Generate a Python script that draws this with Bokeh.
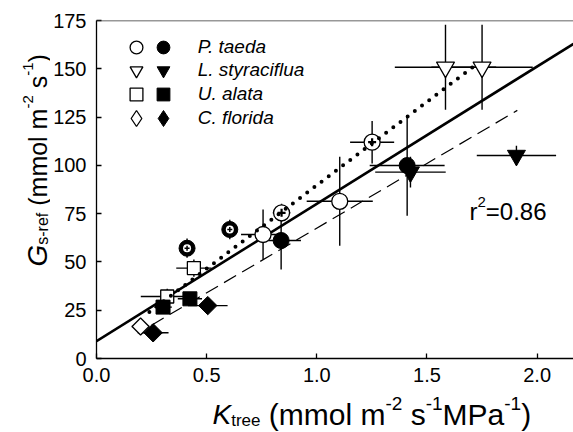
import numpy as np
from bokeh.plotting import figure
from bokeh.layouts import column, row
from bokeh.models import (Range1d, FixedTicker, Label, Legend,
                          LegendItem, Span, NumeralTickFormatter)
from bokeh.embed import file_html
from bokeh.resources import INLINE

# ---------------- data ----------------
# P. taeda
pt_open_x = [0.756, 1.104]
pt_open_y = [64.2, 81.4]
pt_open_xerr = [0.10, 0.15]
pt_open_yerr = [13, 23]

pt_open_plus_x = [0.840, 1.251]
pt_open_plus_y = [75.4, 112.0]
pt_open_plus_xerr = [0.04, 0.10]
pt_open_plus_yerr = [4.7, 11]

pt_fill_x = [0.838, 1.410]
pt_fill_y = [61.1, 99.9]
pt_fill_xerr = [0.09, 0.17]
pt_fill_yerr = [15, 26]

pt_fill_plus_x = [0.411, 0.605]
pt_fill_plus_y = [57.1, 66.8]
pt_fill_plus_xerr = [0.0, 0.0]
pt_fill_plus_yerr = [5, 5]

# L. styraciflua
ls_open_x = [1.584, 1.750]
ls_open_y = [150.8, 150.8]
ls_open_xerr = [0.23, 0.23]
ls_open_yerr = [22, 22]

ls_fill_x = [1.425, 1.906]
ls_fill_y = [96.5, 105.1]
ls_fill_xerr = [0.16, 0.18]
ls_fill_yerr = [8, 5]

# U. alata
ua_open_x = [0.442, 0.321]
ua_open_y = [46.8, 32.1]
ua_open_xerr = [0.08, 0.12]
ua_open_yerr = [4.5, 4]

ua_fill_x = [0.302, 0.424]
ua_fill_y = [26.6, 30.9]
ua_fill_xerr = [0.04, 0.055]
ua_fill_yerr = [3, 3]

# C. florida
cf_open_x = [0.200]
cf_open_y = [16.6]
cf_open_xerr = [0.04]
cf_open_yerr = [3]

cf_fill_x = [0.257, 0.505]
cf_fill_y = [13.3, 27.4]
cf_fill_xerr = [0.07, 0.09]
cf_fill_yerr = [3, 3]

species = ["P. taeda", "L. styraciflua", "U. alata", "C. florida"]

# regression lines: (intercept, slope, x_start, x_end)
solid_fit = (9.0, 71.1, 0.0, 2.165)
dotted_fit = (3.3, 86.4, 0.24, 1.73)
dashed_fit = (0.5, 67.0, 0.25, 1.91)

x_ticks = [0.0, 0.5, 1.0, 1.5, 2.0]
y_ticks = [0, 25, 50, 75, 100, 125, 150, 175]

FONT = "Liberation Sans"

# page layout (pixels): y-title strip | main plot ; x-title strip below
YSTRIP_W = 50
MAIN_W, MAIN_H = 573 - YSTRIP_W, 392
XSTRIP_H = 39
FRAME_L, FRAME_T, FRAME_B = 96, 20, 358          # page coordinates of the main frame

p = figure(width=MAIN_W, height=MAIN_H, output_backend="svg", toolbar_location=None,
           x_range=Range1d(0, 2.165), y_range=Range1d(0, 175),
           min_border_left=FRAME_L - YSTRIP_W, min_border_right=0, min_border_top=FRAME_T,
           min_border_bottom=MAIN_H - FRAME_B)
p.outline_line_color = None
p.grid.visible = False
p.background_fill_color = "white"
p.border_fill_color = "white"

for ax, ticks in ((p.xaxis[0], x_ticks), (p.yaxis[0], y_ticks)):
    ax.ticker = FixedTicker(ticks=ticks)
    ax.axis_line_color = "black"
    ax.axis_line_width = 1.3
    ax.major_tick_line_color = "black"
    ax.major_tick_line_width = 1.3
    ax.major_tick_in = 5
    ax.major_tick_out = 0
    ax.minor_tick_line_color = None
    ax.major_label_text_font = FONT
    ax.major_label_text_font_size = "20px"
    ax.major_label_text_color = "black"
p.xaxis[0].formatter = NumeralTickFormatter(format="0.0")
p.xaxis[0].major_label_standoff = 9
p.yaxis[0].major_label_standoff = 10

p.add_layout(Span(location=175, dimension="width", line_color="#333333", line_width=1.3))

def fit_line(fit):
    b, m, x0, x1 = fit
    xs = np.array([x0, x1])
    return xs, b + m * xs

xs, ys = fit_line(solid_fit)
p.line(xs, ys, line_color="black", line_width=2.6)
xs, ys = fit_line(dashed_fit)
p.line(xs, ys, line_color="black", line_width=1.2, line_dash="14 7")

# error bars
groups = [
    (pt_open_x, pt_open_y, pt_open_xerr, pt_open_yerr),
    (pt_open_plus_x, pt_open_plus_y, pt_open_plus_xerr, pt_open_plus_yerr),
    (pt_fill_x, pt_fill_y, pt_fill_xerr, pt_fill_yerr),
    (pt_fill_plus_x, pt_fill_plus_y, pt_fill_plus_xerr, pt_fill_plus_yerr),
    (ls_open_x, ls_open_y, ls_open_xerr, ls_open_yerr),
    (ls_fill_x, ls_fill_y, ls_fill_xerr, ls_fill_yerr),
    (ua_open_x, ua_open_y, ua_open_xerr, ua_open_yerr),
    (ua_fill_x, ua_fill_y, ua_fill_xerr, ua_fill_yerr),
    (cf_open_x, cf_open_y, cf_open_xerr, cf_open_yerr),
    (cf_fill_x, cf_fill_y, cf_fill_xerr, cf_fill_yerr),
]
for gx, gy, gxe, gye in groups:
    gx, gy, gxe, gye = map(np.asarray, (gx, gy, gxe, gye))
    p.segment(gx - gxe, gy, gx + gxe, gy, line_color="black", line_width=1.4)
    p.segment(gx, gy - gye, gx, gy + gye, line_color="black", line_width=1.4)

# markers
diam = np.pi / 4
r_pt_o = p.scatter(pt_open_x, pt_open_y, marker="circle", size=16, fill_color="white", line_color="black", line_width=1.3)
p.scatter(pt_open_plus_x, pt_open_plus_y, marker="circle", size=16, fill_color="white", line_color="black", line_width=1.3)
r_pt_f = p.scatter(pt_fill_x, pt_fill_y, marker="circle", size=16, fill_color="black", line_color="black")
p.scatter(pt_fill_plus_x, pt_fill_plus_y, marker="circle", size=16, fill_color="black", line_color="black")
p.scatter(pt_fill_plus_x, pt_fill_plus_y, marker="circle", size=8, fill_color="white", line_color=None)

r_ls_o = p.scatter(ls_open_x, ls_open_y, marker="inverted_triangle", size=18, fill_color="white", line_color="black", line_width=1.3)
r_ls_f = p.scatter(ls_fill_x, ls_fill_y, marker="inverted_triangle", size=18, fill_color="black", line_color="black")
r_ua_o = p.scatter(ua_open_x, ua_open_y, marker="square", size=13, fill_color="white", line_color="black", line_width=1.3)
r_ua_f = p.scatter(ua_fill_x, ua_fill_y, marker="square", size=14, fill_color="black", line_color="black")
# C. florida: diamond-marker keys (used by the legend, which does not rotate glyphs),
# drawn first and covered by the rotated squares that show the points
r_cf_o = p.scatter(cf_open_x, cf_open_y, marker="diamond", size=13, fill_color="white", line_color="black", line_width=1.3)
r_cf_f = p.scatter(cf_fill_x, cf_fill_y, marker="diamond", size=14, fill_color="black", line_color="black")
p.scatter(cf_open_x, cf_open_y, marker="square", size=12, angle=diam, fill_color="white", line_color="black", line_width=1.3)
p.scatter(cf_fill_x, cf_fill_y, marker="square", size=13, angle=diam, fill_color="black", line_color="black")

p.scatter(pt_open_plus_x, pt_open_plus_y, marker="cross", size=8, line_color="black", line_width=2.2)
p.scatter(pt_fill_plus_x, pt_fill_plus_y, marker="cross", size=5, line_color="black", line_width=1.5)

xs, ys = fit_line(dotted_fit)
p.line(xs, ys, line_color="black", line_width=4, line_dash="0 9", line_cap="round")

# ---------------- legend: one small legend per key, rows 23.7 px apart ----------------
ROW_TOP = 46.7          # page y of the first row's centre
ROW_STEP = 23.7
OPEN_CX, FILL_CX, TEXT_X = 136, 162.7, 198
ROW_GLYPH = [32, 32, 32, 40]

def key_legend(renderer, label, cx, cy, glyph, with_text):
    left = cx - glyph / 2 - FRAME_L
    bottom = FRAME_B - (cy + glyph / 2)
    standoff = int(round(TEXT_X - (cx + glyph / 2))) if with_text else 0
    return Legend(items=[LegendItem(label=label, renderers=[renderer])],
                  location=(left, bottom), orientation="vertical",
                  glyph_width=glyph, glyph_height=glyph, spacing=0, padding=0, margin=0,
                  label_standoff=standoff, label_width=0,
                  label_text_font=FONT, label_text_font_style="italic",
                  label_text_font_size="19px" if with_text else "1px", label_text_color="black",
                  border_line_color=None, background_fill_alpha=0)

open_r = [r_pt_o, r_ls_o, r_ua_o, r_cf_o]
fill_r = [r_pt_f, r_ls_f, r_ua_f, r_cf_f]
for i, (ro, rf, name) in enumerate(zip(open_r, fill_r, species)):
    cy = ROW_TOP + i * ROW_STEP
    p.add_layout(key_legend(ro, " ", OPEN_CX, cy, ROW_GLYPH[i], False))
    p.add_layout(key_legend(rf, name, FILL_CX, cy, ROW_GLYPH[i], True))

# ---------------- composed text (axis titles, r^2) ----------------
ARIAL_W = {' ': 278, '(': 333, ')': 333, 'm': 833, 'o': 556, 'l': 222, 's': 500, '-': 333,
           '1': 556, '2': 556, 'M': 833, 'P': 667, 'a': 556, 'K': 667, 't': 278, 'r': 333,
           'e': 556, 'f': 278, 'G': 778, '=': 584, '0': 556, '.': 278, '8': 556, '6': 556}

def tw(s, size):
    return sum(ARIAL_W[c] for c in s) * size / 1000.0

def blank_strip(w, h):
    f = figure(width=w, height=h, output_backend="svg", toolbar_location=None,
               x_axis_type=None, y_axis_type=None, min_border=0,
               x_range=Range1d(0, w), y_range=Range1d(0, h))
    f.outline_line_color = None
    f.background_fill_color = "white"
    f.border_fill_color = "white"
    return f

def put(fig, text, sx, sy, size, style="normal", angle=0.0):
    fig.add_layout(Label(x=sx, y=sy, x_units="screen", y_units="screen",
                         text=text, angle=angle, text_font=FONT, text_font_size=f"{size}px",
                         text_font_style=style, text_align="left", text_baseline="alphabetic",
                         text_color="black"))

def split_lead(text, size):
    # leading blanks are collapsed in SVG text, so advance past them explicitly
    body = text.lstrip(" ")
    return body, tw(text[:len(text) - len(body)], size)

# r^2 inside the main frame (frame-relative screen units)
def run_h_main(pieces, x0, base):
    x = x0
    for text, size, style, shift in pieces:
        body, lead = split_lead(text, size)
        x += lead
        put(p, body, x - FRAME_L, FRAME_B - (base + shift), size, style)
        x += tw(body, size)

run_h_main([("r", 24, "normal", 0), ("2", 15, "normal", -10), ("=0.86", 24, "normal", 0)], 469, 211)

# y-axis title strip
ystrip = blank_strip(YSTRIP_W, MAIN_H)
def run_v(pieces, y0, base):
    y = y0
    for text, size, style, shift in pieces:
        body, lead = split_lead(text, size)
        y -= lead
        put(ystrip, body, base + shift, MAIN_H - y, size, style, angle=np.pi / 2)
        y -= tw(body, size)

run_v([("G", 28, "italic", 0), ("s-ref", 16, "normal", 5), (" (mmol m", 25, "normal", 0),
       ("-2", 15, "normal", -10), (" s", 25, "normal", 0), ("-1", 15, "normal", -10),
       (")", 25, "normal", 0)],
      300, 37)

# x-axis title strip (baseline measured from the strip's bottom edge)
xstrip = blank_strip(573, XSTRIP_H)
X_BASE_FROM_BOTTOM = 17
def run_h(pieces, x0):
    x = x0
    for text, size, style, shift in pieces:
        body, lead = split_lead(text, size)
        x += lead
        put(xstrip, body, x, X_BASE_FROM_BOTTOM - shift, size, style)
        x += tw(body, size)

LBL, SUB = 30, 19
run_h([("K", 28, "italic", 0), ("tree", 17, "normal", 6), (" (mmol m", LBL, "normal", 0),
       ("-2", SUB, "normal", -11), (" s", LBL, "normal", 0), ("-1", SUB, "normal", -11),
       ("MPa", LBL, "normal", 0), ("-1", SUB, "normal", -11), (")", LBL, "normal", 0)],
      212)

layout = column(row(ystrip, p, spacing=0), xstrip, spacing=0)
open("out.html", "w").write(file_html(layout, INLINE))
